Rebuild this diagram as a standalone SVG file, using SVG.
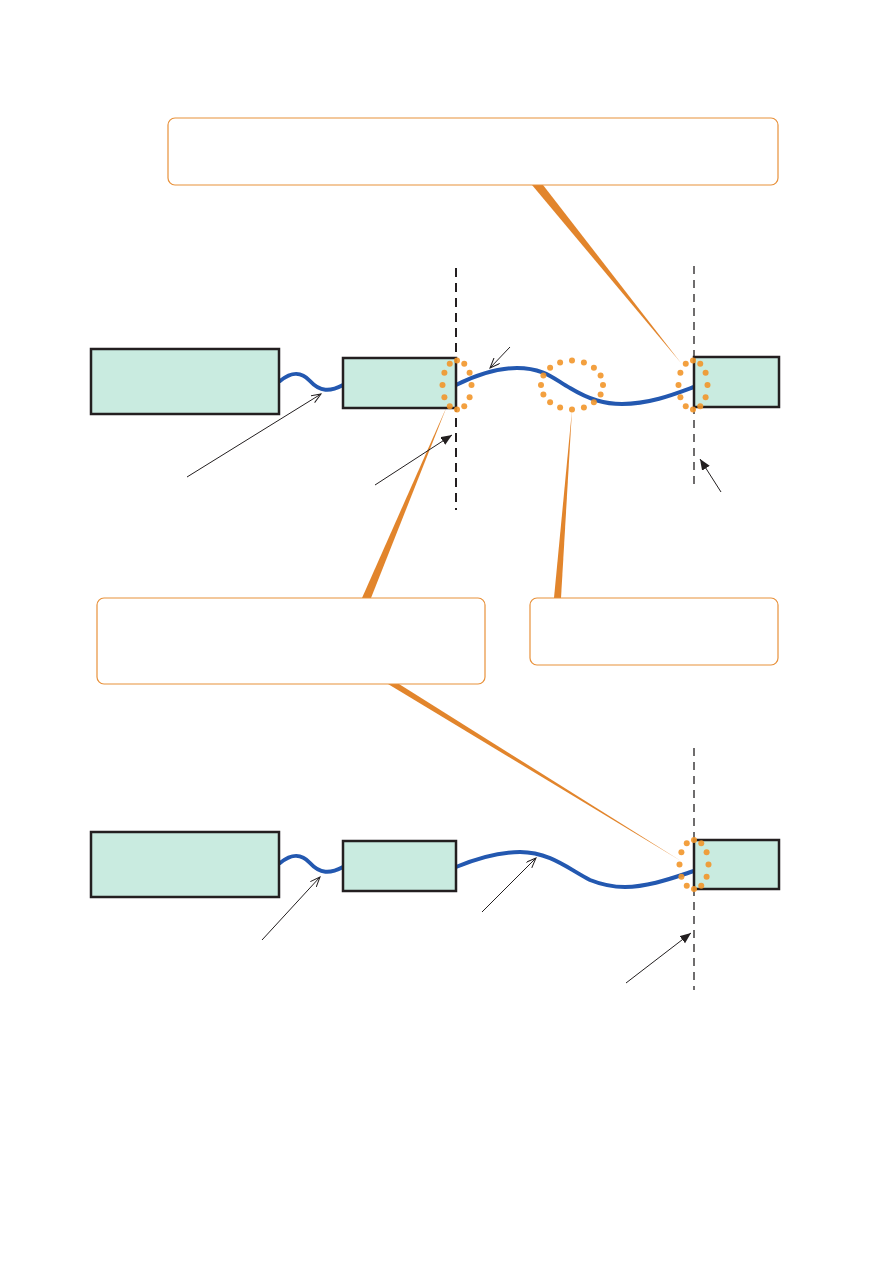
<svg xmlns="http://www.w3.org/2000/svg" xmlns:xlink="http://www.w3.org/1999/xlink" width="893" height="1263" viewBox="0 0 893 1263">
<style>
.box{fill:#C9EBE0;stroke:#231F20;stroke-width:2.5}
.callout{fill:#FFFFFF;stroke:#E8913A;stroke-width:1.2}
.wedge{fill:#E2852C;stroke:none}
.cable{fill:none;stroke:#2358B0;stroke-width:4;stroke-linecap:round}
.dot{fill:#F2962A;fill-opacity:0.9}
.dashA{stroke:#231F20;stroke-width:2;stroke-dasharray:9 6;fill:none}
.dashB{stroke:#231F20;stroke-width:1.3;stroke-dasharray:8 6;fill:none}
.leadO{stroke:#231F20;stroke-width:1;fill:none;marker-end:url(#openArrow)}
.leadF{stroke:#231F20;stroke-width:1;fill:none;marker-end:url(#fillArrow)}
</style>
<defs>
<marker id="openArrow" markerUnits="userSpaceOnUse" markerWidth="12" markerHeight="12" refX="10" refY="4" orient="auto">
<path d="M0,0 L10,4 L0,8" fill="none" stroke="#231F20" stroke-width="1"/>
</marker>
<marker id="fillArrow" markerUnits="userSpaceOnUse" markerWidth="14" markerHeight="12" refX="11" refY="4.5" orient="auto">
<path d="M0,0 L11,4.5 L0,9 z" fill="#231F20"/>
</marker>
<g id="ring12">
<circle class="dot" cx="0" cy="-24.5" r="3"/>
<circle class="dot" cx="7.25" cy="-21.2" r="3"/>
<circle class="dot" cx="12.6" cy="-12.25" r="3"/>
<circle class="dot" cx="14.5" cy="0" r="3"/>
<circle class="dot" cx="12.6" cy="12.25" r="3"/>
<circle class="dot" cx="7.25" cy="21.2" r="3"/>
<circle class="dot" cx="0" cy="24.5" r="3"/>
<circle class="dot" cx="-7.25" cy="21.2" r="3"/>
<circle class="dot" cx="-12.6" cy="12.25" r="3"/>
<circle class="dot" cx="-14.5" cy="0" r="3"/>
<circle class="dot" cx="-12.6" cy="-12.25" r="3"/>
<circle class="dot" cx="-7.25" cy="-21.2" r="3"/>
</g>
<g id="ring16">
<circle class="dot" cx="0" cy="-24.5" r="3"/>
<circle class="dot" cx="11.9" cy="-22.6" r="3"/>
<circle class="dot" cx="21.9" cy="-17.3" r="3"/>
<circle class="dot" cx="28.6" cy="-9.4" r="3"/>
<circle class="dot" cx="31" cy="0" r="3"/>
<circle class="dot" cx="28.6" cy="9.4" r="3"/>
<circle class="dot" cx="21.9" cy="17.3" r="3"/>
<circle class="dot" cx="11.9" cy="22.6" r="3"/>
<circle class="dot" cx="0" cy="24.5" r="3"/>
<circle class="dot" cx="-11.9" cy="22.6" r="3"/>
<circle class="dot" cx="-21.9" cy="17.3" r="3"/>
<circle class="dot" cx="-28.6" cy="9.4" r="3"/>
<circle class="dot" cx="-31" cy="0" r="3"/>
<circle class="dot" cx="-28.6" cy="-9.4" r="3"/>
<circle class="dot" cx="-21.9" cy="-17.3" r="3"/>
<circle class="dot" cx="-11.9" cy="-22.6" r="3"/>
</g>
</defs>
<rect width="893" height="1263" fill="#FFFFFF"/>

<g id="callout-wedges">
<polygon class="wedge" points="532,185 543,185 681,363"/>
<polygon class="wedge" points="447,406 362,598 371,598"/>
<polygon class="wedge" points="572,410 554,598 561,598"/>
<polygon class="wedge" points="388,684 399,684 681,861"/>
</g>

<g id="callout-top"><rect class="callout" x="168" y="118" width="610" height="67" rx="7"/></g>
<g id="callout-left"><rect class="callout" x="97" y="598" width="388" height="86" rx="7"/></g>
<g id="callout-right"><rect class="callout" x="530" y="598" width="248" height="67" rx="7"/></g>

<g id="dividers">
<line class="dashA" x1="456" y1="268" x2="456" y2="510"/>
<line class="dashB" x1="694" y1="266" x2="694" y2="490"/>
<line class="dashB" x1="694" y1="748" x2="694" y2="990"/>
</g>

<g id="connectors">
<path class="cable" d="M280,381 C290,373 300,370 310,381 S330,392 343,385"/>
<path class="cable" d="M456,385 C480,373 500,368 517,368 C545,368 555,380 570,388 C590,400 605,404 622,404 C650,404 675,394 694,387"/>
<path class="cable" d="M280,863 C290,855 300,852 310,863 S330,874 343,867"/>
<path class="cable" d="M456,867 C480,857 500,852 520,852 C550,852 570,870 590,880 C605,886 615,887 625,887 C650,887 675,877 694,871"/>
<line class="leadO" x1="187" y1="477" x2="321" y2="394"/>
<line class="leadF" x1="375" y1="485" x2="452" y2="435"/>
<line class="leadO" x1="510" y1="347" x2="490" y2="368"/>
<line class="leadF" x1="721" y1="492" x2="700" y2="459"/>
<line class="leadO" x1="262" y1="940" x2="320" y2="877"/>
<line class="leadO" x1="482" y1="912" x2="536" y2="858"/>
<line class="leadF" x1="626" y1="983" x2="691" y2="933"/>
</g>

<g id="node-a"><rect class="box" x="91" y="349" width="188" height="65"/></g>
<g id="node-b"><rect class="box" x="343" y="358" width="113" height="50"/></g>
<g id="node-c"><rect class="box" x="694" y="357" width="85" height="50"/></g>
<g id="node-d"><rect class="box" x="91" y="832" width="188" height="65"/></g>
<g id="node-e"><rect class="box" x="343" y="841" width="113" height="50"/></g>
<g id="node-f"><rect class="box" x="694" y="840" width="85" height="49"/></g>

<g id="highlight-b"><use xlink:href="#ring12" x="457" y="385"/></g>
<g id="highlight-mid"><use xlink:href="#ring16" x="572" y="385"/></g>
<g id="highlight-c"><use xlink:href="#ring12" x="693" y="385"/></g>
<g id="highlight-f"><use xlink:href="#ring12" x="694" y="864.5"/></g>
</svg>
